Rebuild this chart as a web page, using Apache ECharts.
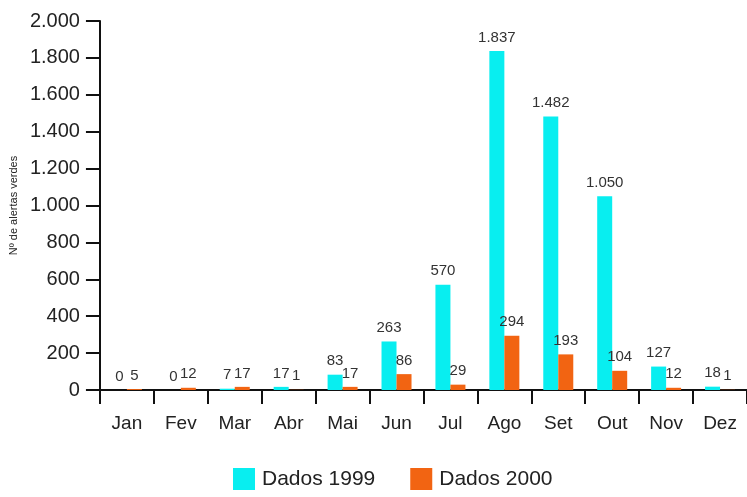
<!DOCTYPE html>
<html>
<head>
<meta charset="utf-8">
<script src="https://cdn.jsdelivr.net/npm/echarts@6/dist/echarts.min.js"></script>
<style>
  html, body { margin: 0; padding: 0; background: #fff; }
  #chart { width: 747px; height: 497px; }
</style>
</head>
<body>
<div id="chart"></div>
<script>
const months = ['Jan', 'Fev', 'Mar', 'Abr', 'Mai', 'Jun', 'Jul', 'Ago', 'Set', 'Out', 'Nov', 'Dez'];
const dados1999 = [0, 0, 7, 17, 83, 263, 570, 1837, 1482, 1050, 127, 18];
const dados2000 = [5, 12, 17, 1, 17, 86, 29, 294, 193, 104, 12, 1];
const yTicks = { min: 0, max: 2000, interval: 200 };

// thousands separator as in pt-BR: 1.837
function fmt(v) {
    return String(v).replace(/\B(?=(\d{3})+(?!\d))/g, '.');
}

const font = 'Liberation Sans, Arial, Helvetica, sans-serif';

const chart = echarts.init(document.getElementById('chart'));
chart.setOption({
    animation: false,
    textStyle: { fontFamily: font },
    grid: { left: 95, right: 0, top: 21, bottom: 107 },
    legend: {
        bottom: 2,
        left: 228,
        itemWidth: 22,
        itemHeight: 22,
        itemGap: 35,
        icon: 'rect',
        textStyle: { fontSize: 21, color: '#222', fontFamily: font, padding: [0, 0, 0, 2] },
        data: ['Dados 1999', 'Dados 2000']
    },
    xAxis: {
        type: 'category',
        data: months,
        axisLine: { lineStyle: { color: '#111', width: 2 } },
        axisTick: { show: true, length: 14, lineStyle: { color: '#111', width: 2 } },
        axisLabel: { fontSize: 19, color: '#222', margin: 24, fontFamily: font }
    },
    yAxis: {
        type: 'value',
        min: yTicks.min,
        max: yTicks.max,
        interval: yTicks.interval,
        name: 'Nº de alertas verdes',
        nameLocation: 'middle',
        nameGap: 78,
        nameTextStyle: { fontSize: 11, color: '#222', fontFamily: font },
        axisLine: { show: true, lineStyle: { color: '#111', width: 2 } },
        axisTick: { show: true, length: 14, lineStyle: { color: '#111', width: 2 } },
        axisLabel: { fontSize: 20, color: '#222', margin: 20, formatter: fmt, fontFamily: font },
        splitLine: { show: false }
    },
    series: [
        {
            name: 'Dados 1999',
            type: 'bar',
            data: dados1999,
            barWidth: 15,
            barGap: '0%',
            itemStyle: { color: '#08EEF0' },
            label: {
                show: true, position: 'top', distance: 6,
                fontSize: 15, color: '#333', fontFamily: font,
                formatter: p => fmt(p.value)
            }
        },
        {
            name: 'Dados 2000',
            type: 'bar',
            data: dados2000,
            barWidth: 15,
            itemStyle: { color: '#F26412' },
            label: {
                show: true, position: 'top', distance: 6,
                fontSize: 15, color: '#333', fontFamily: font,
                formatter: p => fmt(p.value)
            }
        }
    ]
});
</script>
</body>
</html>
